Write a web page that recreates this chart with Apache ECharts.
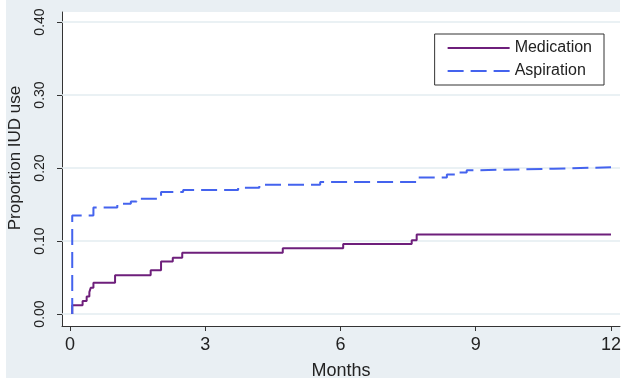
<!DOCTYPE html>
<html>
<head>
<meta charset="utf-8">
<script src="https://cdn.jsdelivr.net/npm/echarts@6/dist/echarts.min.js"></script>
<style>
  html, body { margin: 0; padding: 0; background: #fff; }
  #chart { width: 626px; height: 385px; }
</style>
</head>
<body>
<div id="chart"></div>
<script>
// step points: [month, proportion from that month on]
const medicationData = [
  [0.05, 0], [0.05, 0.012], [0.28, 0.018], [0.37, 0.024], [0.43, 0.030],
  [0.46, 0.036], [0.52, 0.043], [1.0, 0.053], [1.79, 0.060], [2.02, 0.072],
  [2.28, 0.077], [2.49, 0.084], [4.72, 0.090], [6.06, 0.096], [7.58, 0.101],
  [7.69, 0.109], [12.0, 0.109]
]
const aspirationData = [
  [0.05, 0], [0.05, 0.135], [0.52, 0.146], [1.05, 0.151], [1.35, 0.154],
  [1.48, 0.158], [2.02, 0.167], [2.51, 0.170], [3.73, 0.173], [4.2, 0.177],
  [5.55, 0.181], [7.69, 0.187], [8.36, 0.191], [8.58, 0.194], [8.8, 0.197],
  [9.02, 0.199], [10.72, 0.201], [12.0, 0.201]
]
const xTicks = [0, 3, 6, 9, 12]
const yTicks = [0, 0.1, 0.2, 0.3, 0.4]

const textColor = '#222'
const font = 'Liberation Sans'

const chart = echarts.init(document.getElementById('chart'))
chart.setOption({
  backgroundColor: '#fff',
  animation: false,
  grid: {
    left: 62,
    right: 6,
    top: 12,
    bottom: 59,
    show: true,
    backgroundColor: '#fff',
    borderWidth: 0
  },
  graphic: [
    {
      // gray outer panel (white margin left, right and bottom)
      type: 'rect',
      z: -10,
      silent: true,
      shape: { x: 6, y: 0, width: 614, height: 378 },
      style: { fill: '#e9eff3' }
    },
    {
      type: 'text',
      x: 15,
      y: 158,
      rotation: Math.PI / 2,
      style: {
        text: 'Proportion IUD use',
        font: '17px "Liberation Sans"',
        fill: textColor,
        align: 'center',
        verticalAlign: 'middle'
      }
    }
  ],
  legend: {
    orient: 'vertical',
    right: 22,
    top: 34,
    backgroundColor: '#fff',
    borderColor: '#333',
    borderWidth: 1,
    borderRadius: 0,
    padding: [6, 12, 6, 12],
    itemWidth: 62,
    itemHeight: 14,
    itemGap: 7,
    itemStyle: { opacity: 0 },
    textStyle: { fontFamily: font, fontSize: 16, color: textColor },
    data: ['Medication', 'Aspiration']
  },
  xAxis: {
    type: 'value',
    min: -0.177,
    max: 12.2,
    name: 'Months',
    nameLocation: 'middle',
    nameGap: 36,
    nameTextStyle: { fontFamily: font, fontSize: 18, color: textColor },
    axisLine: { show: true, onZero: false, lineStyle: { color: '#333', width: 1 } },
    axisTick: { show: true, length: 5, customValues: xTicks, lineStyle: { color: '#333' } },
    axisLabel: {
      customValues: xTicks,
      fontFamily: font,
      fontSize: 18,
      color: textColor,
      margin: 10
    },
    splitLine: { show: false }
  },
  yAxis: {
    type: 'value',
    min: -0.0164,
    max: 0.4137,
    axisLine: { show: true, onZero: false, lineStyle: { color: '#333', width: 1 } },
    axisTick: { show: true, length: 5, customValues: yTicks, lineStyle: { color: '#333' } },
    axisLabel: {
      customValues: yTicks,
      rotate: 90,
      fontFamily: font,
      fontSize: 14,
      color: textColor,
      margin: 15,
      formatter: v => v.toFixed(2)
    },
    splitLine: { show: false }
  },
  series: [
    {
      name: 'Medication',
      type: 'line',
      step: 'end',
      symbol: 'none',
      data: medicationData,
      color: '#6e1f7b',
      lineStyle: { width: 2, color: '#6e1f7b' },
      z: 3,
      markLine: {
        silent: true,
        symbol: 'none',
        label: { show: false },
        lineStyle: { color: '#e3ecf1', width: 1.5, type: 'solid' },
        data: yTicks.map(v => ({ yAxis: v })),
        z: 1
      }
    },
    {
      name: 'Aspiration',
      type: 'line',
      step: 'end',
      symbol: 'none',
      data: aspirationData,
      color: '#4463ee',
      lineStyle: { width: 2, color: '#4463ee', type: [16, 7] },
      z: 3
    }
  ]
})
</script>
</body>
</html>
